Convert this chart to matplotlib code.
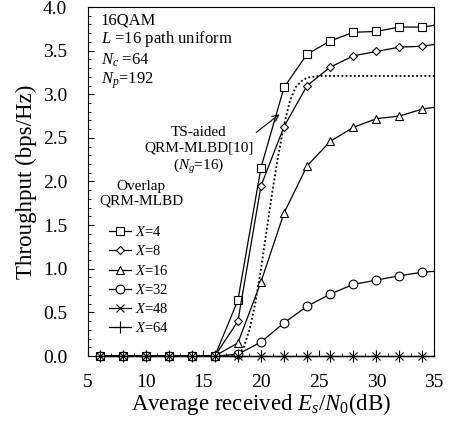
import matplotlib
matplotlib.use("Agg")
import matplotlib.pyplot as plt

plt.rcParams['font.family'] = ['Liberation Serif', 'DejaVu Serif']
plt.rcParams['mathtext.fontset'] = 'custom'
plt.rcParams['mathtext.rm'] = 'Liberation Serif'
plt.rcParams['mathtext.it'] = 'Liberation Serif:italic'

# Es/N0 (dB) points, markers every 2 dB; the line runs on to the 35 dB edge
snr = [6, 8, 10, 12, 14, 16, 18, 20, 22, 24, 26, 28, 30, 32, 34, 35]
thr_x4 = [0, 0, 0, 0, 0, 0, 0.64, 2.16, 3.08, 3.46, 3.61, 3.71, 3.72, 3.77, 3.77, 3.79]
thr_x8 = [0, 0, 0, 0, 0, 0, 0.40, 1.95, 2.63, 3.10, 3.31, 3.44, 3.49, 3.54, 3.55, 3.57]
thr_x16 = [0, 0, 0, 0, 0, 0, 0.15, 0.85, 1.64, 2.18, 2.46, 2.62, 2.72, 2.75, 2.83, 2.85]
thr_x32 = [0, 0, 0, 0, 0, 0, 0.02, 0.16, 0.38, 0.57, 0.71, 0.82, 0.87, 0.92, 0.96, 0.97]
thr_x48 = [0] * 16
thr_x64 = [0] * 16

# TS-aided QRM-MLBD[10] (dotted, no markers)
ts_snr = [16, 18, 18.5, 19, 19.5, 20, 20.5, 21, 21.5, 22, 22.5, 23, 23.5, 24, 25, 35]
ts_thr = [0, 0, 0.1, 0.3, 0.6, 1.0, 1.45, 1.9, 2.3, 2.65, 2.92, 3.08, 3.15, 3.19, 3.21, 3.21]

series = [
    (thr_x4, 's', '$X$=4'),
    (thr_x8, 'D', '$X$=8'),
    (thr_x16, '^', '$X$=16'),
    (thr_x32, 'o', '$X$=32'),
    (thr_x48, 'x', '$X$=48'),
    (thr_x64, '+', '$X$=64'),
]
msize = {'s': 5.2, 'D': 4.3, '^': 6, 'o': 6.3, 'x': 6, '+': 8}

fig = plt.figure(figsize=(4.49, 4.23), dpi=100)
ax = fig.add_axes([88 / 449, 1 - 356 / 423, 346 / 449, 349 / 423])

ax.plot(ts_snr, ts_thr, color='black', linestyle=(0, (1, 1.3)), linewidth=1.3, clip_on=False)
for vals, mk, lab in series:
    ax.plot(snr, vals, color='black', linewidth=0.9, marker=mk, markersize=msize[mk],
            markerfacecolor='white', markeredgecolor='black', markeredgewidth=0.8,
            markevery=list(range(15)), clip_on=False, label=lab)

ax.set_xlim(5, 35)
ax.set_ylim(0, 4.0)
ax.set_xticks([5, 10, 15, 20, 25, 30, 35])
ax.set_xticks(range(5, 36), minor=True)
ax.set_yticks([0, 0.5, 1.0, 1.5, 2.0, 2.5, 3.0, 3.5, 4.0])
ax.set_yticks([i / 10 for i in range(41)], minor=True)
ax.yaxis.set_major_formatter(matplotlib.ticker.FormatStrFormatter('%.1f'))
ax.tick_params(which='both', direction='in', top=False, right=False, labelsize=14)
ax.tick_params(axis='y', pad=15)
ax.tick_params(axis='x', pad=13)
ax.tick_params(which='major', length=4, width=0.8)
ax.tick_params(which='minor', length=2.5, width=0.6)

ax.set_xlabel('Average received $E_s$/$N_0$(dB)', fontsize=16.5, labelpad=0)
ax.set_ylabel('Throughput (bps/Hz)', fontsize=16.5, labelpad=4)

# condition text, top left
ax.text(6.1, 3.85, '16QAM', fontsize=12, va='center')
ax.text(6.1, 3.63, '$L$ =16 path uniform', fontsize=12, va='center')
ax.text(6.1, 3.39, '$N_c$ =64', fontsize=12, va='center')
ax.text(6.1, 3.15, '$N_p$=192', fontsize=12, va='center')

ax.annotate('TS-aided\nQRM-MLBD[10]\n($N_g$=16)', xy=(21.6, 2.77), xytext=(14.6, 2.35),
            fontsize=11, ha='center', va='center', multialignment='center',
            arrowprops=dict(arrowstyle='->', color='black', linewidth=0.8,
                            shrinkA=0, shrinkB=0, relpos=(1.0, 0.83)))

ax.text(9.6, 1.86, 'Overlap\nQRM-MLBD', fontsize=11, ha='center', va='center',
        multialignment='center')

ax.legend(loc='upper left', bbox_to_anchor=(0.061, 0.375), frameon=False, fontsize=10.5,
          borderpad=0, borderaxespad=0, handlelength=1.5, handletextpad=0.3,
          labelspacing=0.36)

fig.savefig('out.png', dpi=100)
